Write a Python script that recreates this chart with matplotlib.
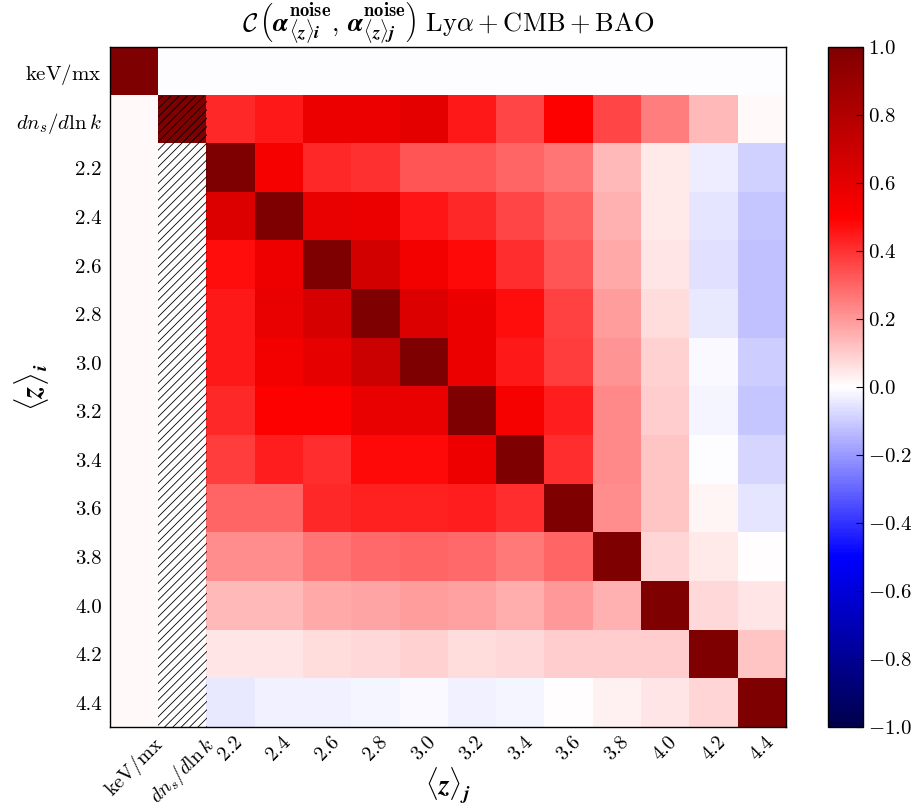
import numpy as np
import matplotlib
matplotlib.use("Agg")
import matplotlib.pyplot as plt
from matplotlib.patches import Rectangle

plt.rcParams['mathtext.fontset'] = 'cm'
plt.rcParams['font.family'] = 'serif'
plt.rcParams['font.serif'] = ['cmr10', 'DejaVu Serif']
plt.rcParams['axes.formatter.use_mathtext'] = True
plt.rcParams['hatch.color'] = 'black'
plt.rcParams['hatch.linewidth'] = 0.6

labels = [r'$\mathrm{keV/mx}$', r'$dn_s/d\ln k$',
          '2.2', '2.4', '2.6', '2.8', '3.0', '3.2', '3.4', '3.6', '3.8', '4.0', '4.2', '4.4']
cbar_ticks = [-1.0, -0.8, -0.6, -0.4, -0.2, 0.0, 0.2, 0.4, 0.6, 0.8, 1.0]

nan = np.nan
# rows of the correlation matrix, top to bottom (nan = not shown, hatched)
row_kev = [1.0, -0.006, -0.006, -0.006, -0.006, -0.006, -0.006, -0.006, -0.006, -0.006, -0.006, -0.006, -0.006, -0.006]
row_dns = [0.008, 1.0, 0.42, 0.45, 0.57, 0.57, 0.60, 0.45, 0.36, 0.50, 0.36, 0.25, 0.14, 0.015]
row_22 = [0.008, nan, 1.0, 0.53, 0.42, 0.40, 0.33, 0.33, 0.30, 0.27, 0.14, 0.045, -0.035, -0.09]
row_24 = [0.008, nan, 0.63, 1.0, 0.58, 0.57, 0.46, 0.42, 0.36, 0.31, 0.15, 0.045, -0.05, -0.115]
row_26 = [0.008, nan, 0.47, 0.56, 1.0, 0.67, 0.54, 0.48, 0.41, 0.33, 0.17, 0.05, -0.055, -0.125]
row_28 = [0.008, nan, 0.45, 0.58, 0.65, 1.0, 0.63, 0.57, 0.47, 0.37, 0.19, 0.065, -0.045, -0.125]
row_30 = [0.008, nan, 0.45, 0.54, 0.59, 0.70, 1.0, 0.57, 0.45, 0.38, 0.21, 0.09, -0.01, -0.10]
row_32 = [0.008, nan, 0.42, 0.50, 0.50, 0.58, 0.58, 1.0, 0.53, 0.44, 0.23, 0.10, -0.02, -0.11]
row_34 = [0.008, nan, 0.38, 0.44, 0.41, 0.48, 0.48, 0.56, 1.0, 0.41, 0.23, 0.11, -0.005, -0.085]
row_36 = [0.008, nan, 0.30, 0.30, 0.42, 0.43, 0.43, 0.44, 0.41, 1.0, 0.225, 0.115, 0.02, -0.05]
row_38 = [0.008, nan, 0.22, 0.22, 0.27, 0.29, 0.30, 0.29, 0.265, 0.30, 1.0, 0.085, 0.045, 0.0]
row_40 = [0.008, nan, 0.135, 0.135, 0.17, 0.175, 0.19, 0.18, 0.16, 0.20, 0.155, 1.0, 0.075, 0.05]
row_42 = [0.008, nan, 0.05, 0.05, 0.07, 0.075, 0.09, 0.07, 0.075, 0.10, 0.10, 0.10, 1.0, 0.11]
row_44 = [0.008, nan, -0.04, -0.03, -0.03, -0.02, -0.015, -0.03, -0.02, 0.005, 0.03, 0.05, 0.085, 1.0]

corr = np.array([row_kev, row_dns, row_22, row_24, row_26, row_28, row_30,
                 row_32, row_34, row_36, row_38, row_40, row_42, row_44])
corr = np.ma.masked_invalid(corr)

cmap = plt.get_cmap('seismic').copy()
cmap.set_bad('white')

fig = plt.figure(figsize=(9.15, 8.09), dpi=100)
ax = fig.add_axes([110/915, 1 - 727/809, 676/915, 680/809])
cax = fig.add_axes([828/915, 1 - 727/809, 35/915, 680/809])

im = ax.imshow(corr, cmap=cmap, vmin=-1, vmax=1, interpolation='nearest', aspect='auto')

# hatch over the dn_s/dlnk column
n = len(labels)
ax.add_patch(Rectangle((0.5, 0.5), 1, n - 1, fill=False, hatch='////', lw=0))

ax.set_xticks(range(n))
ax.set_yticks(range(n))
ax.set_xticklabels(labels, rotation=45, fontsize=14.5)
ax.set_yticklabels(labels, fontsize=15)
ax.tick_params(length=0)
ax.tick_params(axis='x', pad=4)
ax.tick_params(axis='y', pad=6)
for s in ax.spines.values():
    s.set_linewidth(1.0)

ax.set_xlabel(r'$\langle \boldsymbol{z} \rangle_{\boldsymbol{j}}$', fontsize=20)
ax.set_ylabel(r'$\langle \boldsymbol{z} \rangle_{\boldsymbol{i}}$', fontsize=21)
ax.xaxis.set_label_coords(0.5, -0.057)
ax.yaxis.set_label_coords(-0.088, 0.5)
ax.set_title(r'$\mathcal{C}\,\left(\boldsymbol{\alpha}^{\mathbf{noise}}_{\langle \boldsymbol{z}\rangle \boldsymbol{i}},\,'
             r'\boldsymbol{\alpha}^{\mathbf{noise}}_{\langle \boldsymbol{z}\rangle \boldsymbol{j}}\right)\ '
             r'\mathrm{Ly}\alpha + \mathrm{CMB} + \mathrm{BAO}$', fontsize=19, pad=5)

cb = fig.colorbar(im, cax=cax, ticks=cbar_ticks)
cb.ax.tick_params(direction='in', length=5, labelsize=15)
cb.ax.yaxis.set_major_formatter(matplotlib.ticker.FuncFormatter(lambda v, p: r'$%.1f$' % (round(v, 1) + 0.0)))
cb.outline.set_linewidth(1.0)

fig.savefig('out.png', dpi=100)
